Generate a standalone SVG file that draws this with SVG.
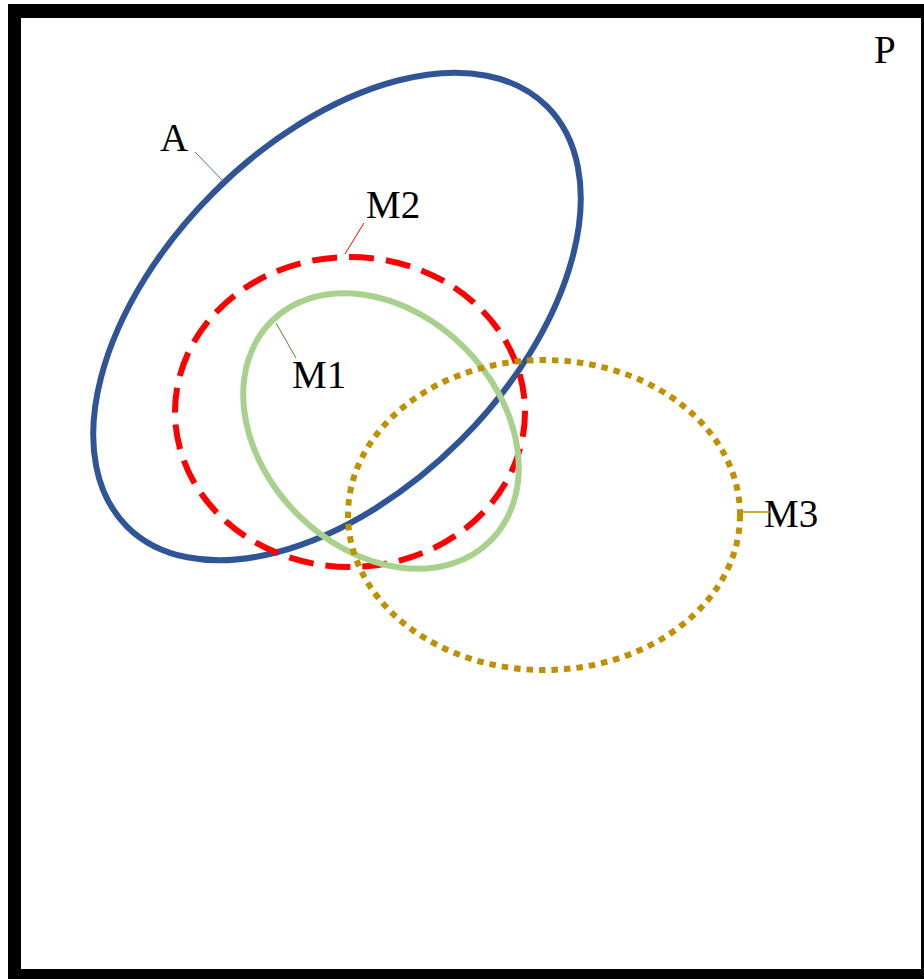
<svg xmlns="http://www.w3.org/2000/svg" width="924" height="979" viewBox="0 0 924 979">
<style>
.lbl{font-family:"Liberation Serif","Times New Roman",serif;font-size:39px;fill:#000}
.e{fill:none;stroke-width:6}
</style>
<rect x="0" y="0" width="924" height="979" fill="#fff"/>
<g id="frame">
<rect x="8" y="4" width="930" height="990" fill="#000"/>
<rect x="21" y="18" width="900" height="951" fill="#fff"/>
<text class="lbl" x="874" y="63">P</text>
</g>
<g id="A">
<ellipse class="e" cx="337" cy="316.5" rx="297" ry="175" transform="rotate(-45 337 316.5)" stroke="#2f5597"/>
<text class="lbl" x="160" y="151">A</text>
</g>
<g id="M2">
<ellipse class="e" cx="350" cy="412" rx="175" ry="155" stroke="#ff0000" stroke-dasharray="25 12"/>
<text class="lbl" x="366" y="218">M2</text>
</g>
<g id="M1">
<ellipse class="e" cx="381" cy="431" rx="155" ry="118" transform="rotate(45 381 431)" stroke="#a9d18e"/>
<text class="lbl" x="292" y="388">M1</text>
</g>
<g id="M3">
<ellipse class="e" cx="544" cy="515" rx="196" ry="155" stroke="#bf9000" stroke-dasharray="6.5 6"/>
<text class="lbl" x="764" y="527">M3</text>
</g>
<g id="connectors">
<line x1="195" y1="152" x2="223" y2="181" stroke="#4472c4" stroke-width="1"/>
<line x1="364" y1="223" x2="345" y2="254" stroke="#ff0000" stroke-width="1"/>
<line x1="276" y1="323" x2="296" y2="358" stroke="#548235" stroke-width="1"/>
<line x1="738" y1="512" x2="770" y2="512" stroke="#bf9000" stroke-width="1.5"/>
</g>
</svg>
